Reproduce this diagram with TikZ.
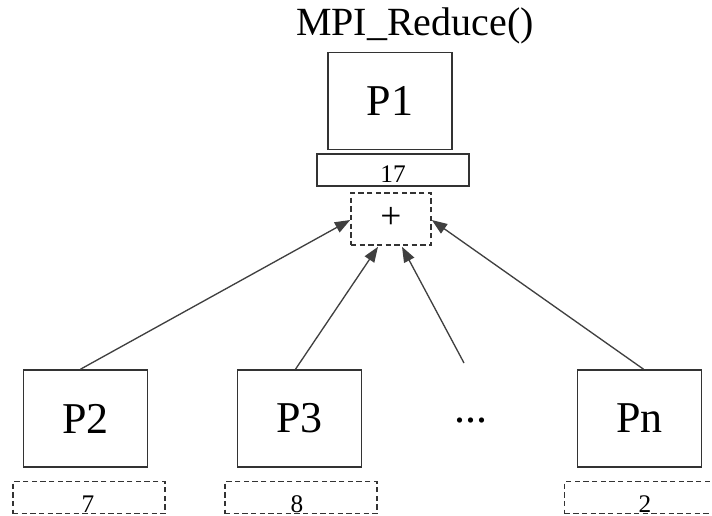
\documentclass[tikz,border=0pt]{standalone}
\usepackage{fontspec}
\setmainfont{Liberation Serif}
\usetikzlibrary{arrows.meta,calc}
\begin{document}
\begin{tikzpicture}[x=0.75pt,y=-0.75pt,
 pbox/.style={draw=black!80, line width=1.2pt, minimum width=93pt, minimum height=72.75pt, inner sep=0pt, font=\fontsize{33}{36}\selectfont},
 valbox/.style={draw=black!80, line width=1.2pt, minimum width=114pt, minimum height=24pt, inner sep=0pt},
 dbox/.style={valbox, dash pattern=on 4pt off 2.5pt},
 val/.style={font=\fontsize{19}{22}\selectfont, inner sep=0pt, anchor=base},
 arr/.style={draw=black!75, line width=1pt, -{Triangle[length=11.5pt,width=8.5pt]}}]
\useasboundingbox (0,0) rectangle (712,516);
\node[anchor=base, font=\fontsize{30}{34}\selectfont, inner sep=0pt] (title) at (415,36) {MPI\_Reduce()};
% top
\node[pbox] (P1) at (390,101) {P1};
\node[valbox] (res) at (393,170) {};
\node[val] (reslbl) at (393,183) {17};
\node[dbox, minimum width=60pt, minimum height=39pt] (plus) at (391,219) {};
\node[font=\fontsize{28}{30}\selectfont, inner sep=0pt] (pluslbl) at (391,218) {+};
% bottom processes
\node[pbox] (P2) at (85.5,418.5) {P2};
\node[pbox] (P3) at (299.5,418.5) {P3};
\node[font=\fontsize{33}{36}\selectfont, inner sep=0pt] (dots) at (471,421) {...};
\node[pbox] (Pn) at (639.5,418.5) {Pn};
\coordinate (dotstop) at (464,363);
% values
\node[dbox] (v2) at (89,497.5) {};
\node[val] (v2lbl) at (88,512) {7};
\node[dbox] (v3) at (301,497.5) {};
\node[val] (v3lbl) at (297,512) {8};
\node[dbox] (vn) at (640.5,497.5) {};
\node[val] (vnlbl) at (645,512) {2};
% arrows
\draw[arr] ($(P2.north)+(-5,0)$) -- ($(plus.west)+(0,1)$);
\draw[arr] ($(P3.north)+(-4,0)$) -- ($(plus.south)+(-13,1)$);
\draw[arr] (dotstop) -- ($(plus.south)+(11,1)$);
\draw[arr] ($(Pn.north)+(4,0)$) -- ($(plus.east)+(0,1)$);
\end{tikzpicture}
\end{document}
